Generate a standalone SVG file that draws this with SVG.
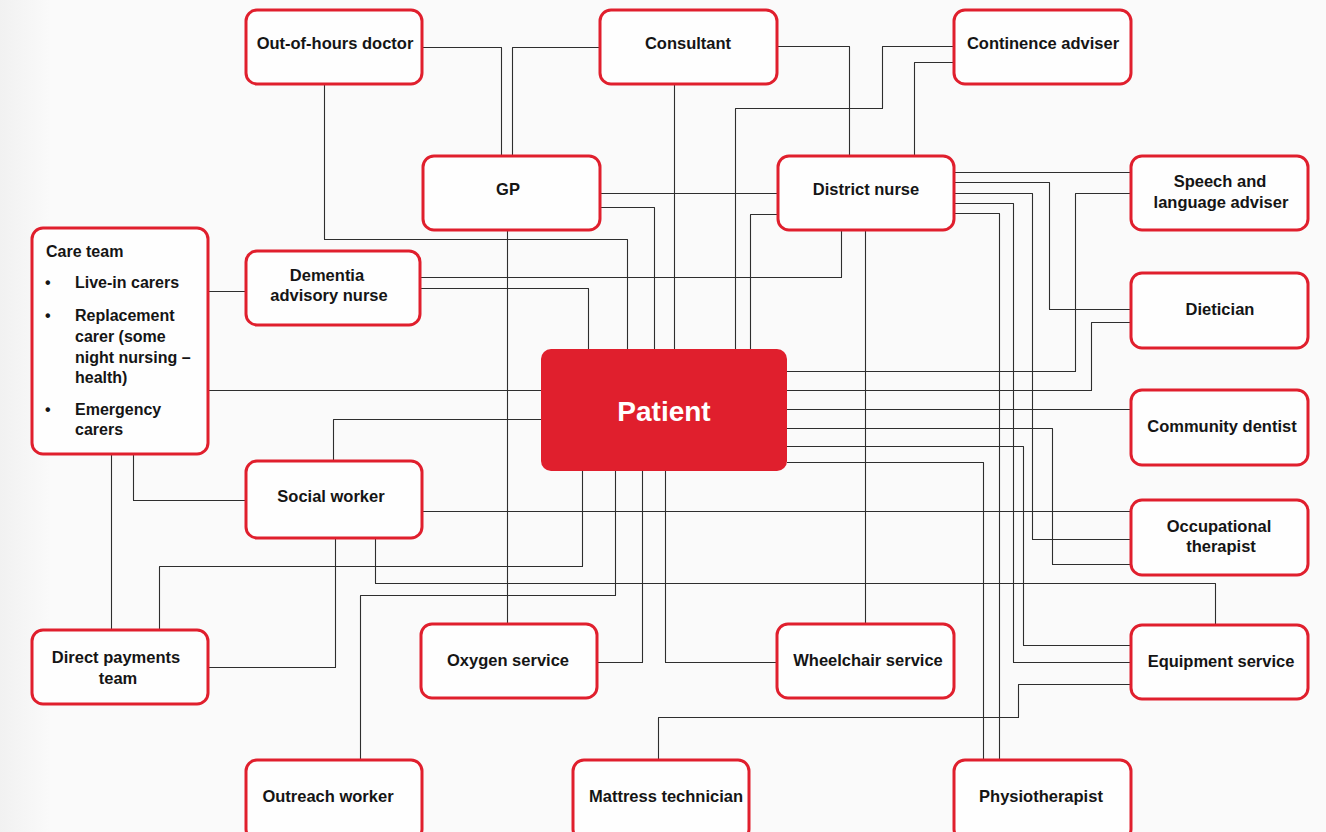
<svg xmlns="http://www.w3.org/2000/svg" width="1326" height="832" viewBox="0 0 1326 832">
  <defs>
    <linearGradient id="edge" x1="0" y1="0" x2="1" y2="0">
      <stop offset="0" stop-color="#f1f1f1"/>
      <stop offset="1" stop-color="#fafafa"/>
    </linearGradient>
    <style>
      .box { fill: #fefefe; stroke: #e01f2d; stroke-width: 3; }
      .core { fill: #e01f2d; }
      .lbl { font-family: "Liberation Sans", Arial, sans-serif; font-weight: bold; font-size: 16.5px; fill: #151515; text-anchor: middle; }
      .lst { font-family: "Liberation Sans", Arial, sans-serif; font-weight: bold; font-size: 16px; fill: #151515; }
      .big { font-family: "Liberation Sans", Arial, sans-serif; font-weight: bold; font-size: 28px; fill: #ffffff; text-anchor: middle; }
      .link { fill: none; stroke: #2e2e2e; stroke-width: 1.1; stroke-linejoin: round; }
    </style>
  </defs>

  <!-- page background -->
  <rect x="0" y="0" width="1326" height="832" fill="#fafafa"/>
  <rect x="0" y="0" width="50" height="832" fill="url(#edge)"/>

  <!-- connectors -->
  <g id="connectors" class="link">
    <path d="M422 47.5 H501.5 V156"/>
    <path d="M600 47.5 H512.5 V156"/>
    <path d="M324.5 84 V239.5 H627.5 V349"/>
    <path d="M674.5 84 V349"/>
    <path d="M600 193.5 H778"/>
    <path d="M600 207.5 H654.5 V349"/>
    <path d="M507.5 230 V624"/>
    <path d="M420 277.5 H841.5 V230"/>
    <path d="M420 288.5 H588.5 V349"/>
    <path d="M778 214.5 H750.5 V349"/>
    <path d="M954 46.5 H882.5 V108.5 H735.5 V349"/>
    <path d="M954 62.5 H914.5 V156"/>
    <path d="M777 46.5 H849.5 V156"/>
    <path d="M954 172.5 H1131"/>
    <path d="M954 182.5 H1049.5 V309.5 H1131"/>
    <path d="M954 193.5 H1032.5 V539.5 H1131"/>
    <path d="M954 203.5 H1013.5 V662.5 H1131"/>
    <path d="M954 213.5 H999.5 V760"/>
    <path d="M1131 193.5 H1075.5 V371.5 H787"/>
    <path d="M1131 322.5 H1091.5 V390.5 H787"/>
    <path d="M787 409.5 H1131"/>
    <path d="M787 428.5 H1052.5 V564.5 H1131"/>
    <path d="M787 446.5 H1023.5 V645.5 H1131"/>
    <path d="M787 462.5 H983.5 V760"/>
    <path d="M1131 684.5 H1018.5 V717.5 H658.5 V760"/>
    <path d="M422 511.5 H1131"/>
    <path d="M375.5 538 V583.5 H1215.5 V625"/>
    <path d="M865.5 230 V624"/>
    <path d="M665.5 471 V662.5 H777"/>
    <path d="M642.5 471 V662.5 H597"/>
    <path d="M582.5 471 V566.5 H159.5 V630"/>
    <path d="M615.5 471 V595.5 H360.5 V760"/>
    <path d="M335.5 538 V667.5 H208"/>
    <path d="M111.5 454 V630"/>
    <path d="M133.5 454 V500.5 H246"/>
    <path d="M333.5 461 V419.5 H541"/>
    <path d="M208 390.5 H541"/>
    <path d="M208 291.5 H246"/>
  </g>

  <!-- nodes -->
  <g id="out-of-hours-doctor">
    <rect class="box" x="246" y="10" width="176" height="74" rx="11"/>
    <text class="lbl" x="335" y="49">Out-of-hours doctor</text>
  </g>
  <g id="consultant">
    <rect class="box" x="600" y="10" width="177" height="74" rx="11"/>
    <text class="lbl" x="688" y="49">Consultant</text>
  </g>
  <g id="continence-adviser">
    <rect class="box" x="954" y="10" width="177" height="74" rx="11"/>
    <text class="lbl" x="1043" y="49">Continence adviser</text>
  </g>
  <g id="gp">
    <rect class="box" x="423" y="156" width="177" height="74" rx="11"/>
    <text class="lbl" x="508" y="195">GP</text>
  </g>
  <g id="district-nurse">
    <rect class="box" x="778" y="156" width="176" height="74" rx="11"/>
    <text class="lbl" x="866" y="195">District nurse</text>
  </g>
  <g id="speech-language-adviser">
    <rect class="box" x="1131" y="156" width="177" height="74" rx="11"/>
    <text class="lbl" x="1220" y="187">Speech and</text>
    <text class="lbl" x="1221" y="208">language adviser</text>
  </g>
  <g id="care-team">
    <rect class="box" x="32" y="228" width="176" height="226" rx="11"/>
    <text class="lst" x="46" y="257">Care team</text>
    <text class="lst" x="45" y="288">•</text>
    <text class="lst" x="75" y="288">Live-in carers</text>
    <text class="lst" x="45" y="321">•</text>
    <text class="lst" x="75" y="321">Replacement</text>
    <text class="lst" x="75" y="342">carer (some</text>
    <text class="lst" x="75" y="363">night nursing –</text>
    <text class="lst" x="75" y="383">health)</text>
    <text class="lst" x="45" y="415">•</text>
    <text class="lst" x="75" y="415">Emergency</text>
    <text class="lst" x="75" y="435">carers</text>
  </g>
  <g id="dementia-advisory-nurse">
    <rect class="box" x="246" y="251" width="174" height="74" rx="11"/>
    <text class="lbl" x="327" y="281">Dementia</text>
    <text class="lbl" x="329" y="301">advisory nurse</text>
  </g>
  <g id="patient">
    <rect class="core" x="541" y="349" width="246" height="122" rx="10"/>
    <text class="big" x="664" y="421">Patient</text>
  </g>
  <g id="dietician">
    <rect class="box" x="1131" y="273" width="177" height="75" rx="11"/>
    <text class="lbl" x="1220" y="315">Dietician</text>
  </g>
  <g id="community-dentist">
    <rect class="box" x="1131" y="390" width="177" height="75" rx="11"/>
    <text class="lbl" x="1222" y="432">Community dentist</text>
  </g>
  <g id="social-worker">
    <rect class="box" x="246" y="461" width="176" height="77" rx="11"/>
    <text class="lbl" x="331" y="502">Social worker</text>
  </g>
  <g id="occupational-therapist">
    <rect class="box" x="1131" y="500" width="177" height="75" rx="11"/>
    <text class="lbl" x="1219" y="532">Occupational</text>
    <text class="lbl" x="1221" y="552">therapist</text>
  </g>
  <g id="direct-payments-team">
    <rect class="box" x="32" y="630" width="176" height="74" rx="11"/>
    <text class="lbl" x="116" y="663">Direct payments</text>
    <text class="lbl" x="118" y="684">team</text>
  </g>
  <g id="oxygen-service">
    <rect class="box" x="421" y="624" width="176" height="74" rx="11"/>
    <text class="lbl" x="508" y="666">Oxygen service</text>
  </g>
  <g id="wheelchair-service">
    <rect class="box" x="777" y="624" width="177" height="74" rx="11"/>
    <text class="lbl" x="868" y="666">Wheelchair service</text>
  </g>
  <g id="equipment-service">
    <rect class="box" x="1131" y="625" width="177" height="74" rx="11"/>
    <text class="lbl" x="1221" y="667">Equipment service</text>
  </g>
  <g id="outreach-worker">
    <rect class="box" x="246" y="760" width="176" height="80" rx="11"/>
    <text class="lbl" x="328" y="802">Outreach worker</text>
  </g>
  <g id="mattress-technician">
    <rect class="box" x="573" y="760" width="176" height="80" rx="11"/>
    <text class="lbl" x="666" y="802">Mattress technician</text>
  </g>
  <g id="physiotherapist">
    <rect class="box" x="954" y="760" width="177" height="80" rx="11"/>
    <text class="lbl" x="1041" y="802">Physiotherapist</text>
  </g>
</svg>
